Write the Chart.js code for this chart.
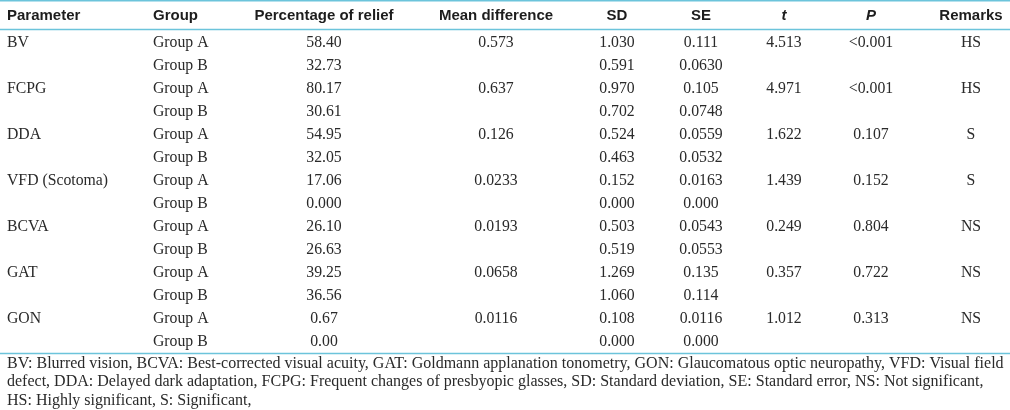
<!DOCTYPE html>
<html>
<head>
<meta charset="utf-8">
<script src="https://cdn.jsdelivr.net/npm/chart.js@4/dist/chart.umd.min.js"></script>
<style>
html,body{margin:0;padding:0;background:#fff;}
#wrap{width:1010px;height:410px;position:relative;}
</style>
</head>
<body>
<div id="wrap"><canvas id="c"></canvas></div>
<script>
// ---- data ----
const headers = ['Parameter','Group','Percentage of relief','Mean difference','SD','SE','t','P','Remarks'];
const parameters = ['BV','FCPG','DDA','VFD (Scotoma)','BCVA','GAT','GON'];
const groups = ['Group A','Group B'];
const reliefA = ['58.40','80.17','54.95','17.06','26.10','39.25','0.67'];
const reliefB = ['32.73','30.61','32.05','0.000','26.63','36.56','0.00'];
const meanDiff = ['0.573','0.637','0.126','0.0233','0.0193','0.0658','0.0116'];
const sdA = ['1.030','0.970','0.524','0.152','0.503','1.269','0.108'];
const sdB = ['0.591','0.702','0.463','0.000','0.519','1.060','0.000'];
const seA = ['0.111','0.105','0.0559','0.0163','0.0543','0.135','0.0116'];
const seB = ['0.0630','0.0748','0.0532','0.000','0.0553','0.114','0.000'];
const tVals = ['4.513','4.971','1.622','1.439','0.249','0.357','1.012'];
const pVals = ['<0.001','<0.001','0.107','0.152','0.804','0.722','0.313'];
const remarks = ['HS','HS','S','S','NS','NS','NS'];
const footnote = [
  'BV: Blurred vision, BCVA: Best-corrected visual acuity, GAT: Goldmann applanation tonometry, GON: Glaucomatous optic neuropathy, VFD: Visual field',
  'defect, DDA: Delayed dark adaptation, FCPG: Frequent changes of presbyopic glasses, SD: Standard deviation, SE: Standard error, NS: Not significant,',
  'HS: Highly significant, S: Significant,'
];

// ---- layout (column anchors on the x scale, alignment) ----
const colX = [7, 153, 324, 496, 617, 701, 784, 871, 971];
const colAlign = ['left','left','center','center','center','center','center','center','center'];
const headerItalic = [false,false,false,false,false,false,true,true,false];

// build table rows (two per parameter)
const rowCells = [];
parameters.forEach((p, i) => {
  rowCells.push([p, groups[0], reliefA[i], meanDiff[i], sdA[i], seA[i], tVals[i], pVals[i], remarks[i]]);
  rowCells.push(['', groups[1], reliefB[i], '', sdB[i], seB[i], '', '', '']);
});

const datasets = headers.map((h, c) => ({
  label: h,
  data: rowCells.map((r, ri) => ({x: colX[c], y: ri, text: r[c]})),
  pointRadius: 0,
  pointHoverRadius: 0
}));

const LINE = '#6cc4db';
const BODY_FONT = '15.75px "Liberation Serif", "Times New Roman", serif';
const FOOT_FONT = '16px "Liberation Serif", "Times New Roman", serif';
const HEAD_FONT = 'bold 15px "Liberation Sans Narrow", "Liberation Sans", Arial, sans-serif';

const tablePlugin = {
  id: 'tablePlugin',
  afterDatasetsDraw(chart) {
    const ctx = chart.ctx;
    const area = chart.chartArea;
    const xs = chart.scales.x;
    ctx.save();
    // rules
    ctx.strokeStyle = LINE;
    ctx.lineWidth = 1.6;
    [0.8, area.top - 2, area.bottom].forEach(y => {
      ctx.beginPath(); ctx.moveTo(0, y); ctx.lineTo(chart.width, y); ctx.stroke();
    });
    // header
    ctx.fillStyle = '#1d1d1d';
    ctx.textBaseline = 'middle';
    headers.forEach((h, c) => {
      ctx.font = (headerItalic[c] ? 'italic ' : '') + HEAD_FONT;
      ctx.textAlign = colAlign[c];
      ctx.fillText(h, xs.getPixelForValue(colX[c]), area.top - 16);
    });
    // body cells
    ctx.font = BODY_FONT;
    ctx.fillStyle = '#2a2a2a';
    chart.data.datasets.forEach((ds, c) => {
      const meta = chart.getDatasetMeta(c);
      ctx.textAlign = colAlign[c];
      meta.data.forEach((el, i) => {
        const t = ds.data[i].text;
        if (t) ctx.fillText(t, el.x, el.y);
      });
    });
    // footnote
    ctx.font = FOOT_FONT;
    ctx.textAlign = 'left';
    footnote.forEach((line, i) => {
      ctx.fillText(line, 7, area.bottom + 10 + i * 18.5);
    });
    ctx.restore();
  }
};

new Chart(document.getElementById('c'), {
  type: 'scatter',
  data: {datasets},
  options: {
    responsive: true,
    maintainAspectRatio: false,
    animation: false,
    events: [],
    layout: {padding: {top: 31.5, bottom: 56.5, left: 0, right: 0}},
    plugins: {legend: {display: false}, tooltip: {enabled: false}},
    scales: {
      x: {type: 'linear', min: 0, max: 1010, display: false},
      y: {type: 'linear', min: -0.5, max: rowCells.length - 0.5, reverse: true, display: false}
    }
  },
  plugins: [tablePlugin]
});
</script>
</body>
</html>
